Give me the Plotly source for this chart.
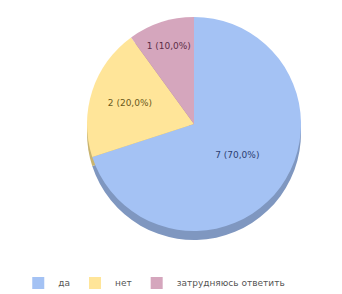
import plotly.graph_objects as go

labels = ["да", "нет", "затрудняюсь ответить"]
values = [7, 2, 1]
colors = ["#a4c2f4", "#ffe599", "#d5a6bd"]
shadow_colors = ["#7f97c0", "#c9b46f", "#a78293"]
text_colors = ["#2c3e73", "#6b5a1c", "#5c2e48"]

W, H = 342, 294
cx, cy, r = 186, 116, 107
dom_x = [(cx - r) / W, (cx + r) / W]
dom_y = [1 - (cy + r) / H, 1 - (cy - r) / H]
depth = 9
dom_y_sh = [dom_y[0] - depth / H, dom_y[1] - depth / H]

fig = go.Figure()
fig.add_trace(go.Pie(
    labels=labels, values=values, sort=False, direction="clockwise", rotation=0,
    marker=dict(colors=shadow_colors, line=dict(width=0)),
    textinfo="none", showlegend=False, hoverinfo="skip",
    domain=dict(x=dom_x, y=dom_y_sh),
))
fig.add_trace(go.Pie(
    labels=labels, values=values, sort=False, direction="clockwise", rotation=0,
    marker=dict(colors=colors, line=dict(width=0)),
    texttemplate="%{value} (%{percent:.1%})",
    textposition="inside", insidetextorientation="horizontal",
    textfont=dict(size=9, color=text_colors, family="DejaVu Sans"),
    domain=dict(x=dom_x, y=dom_y),
))
fig.update_layout(
    width=W, height=H,
    margin=dict(l=0, r=0, t=0, b=0),
    paper_bgcolor="white",
    separators=", ",
    legend=dict(orientation="h", x=0.03, y=0.065, xanchor="left", yanchor="middle",
                font=dict(size=9, color="#555555", family="DejaVu Sans"),
                itemwidth=30, tracegroupgap=0),
)
fig.write_html("out.html")
